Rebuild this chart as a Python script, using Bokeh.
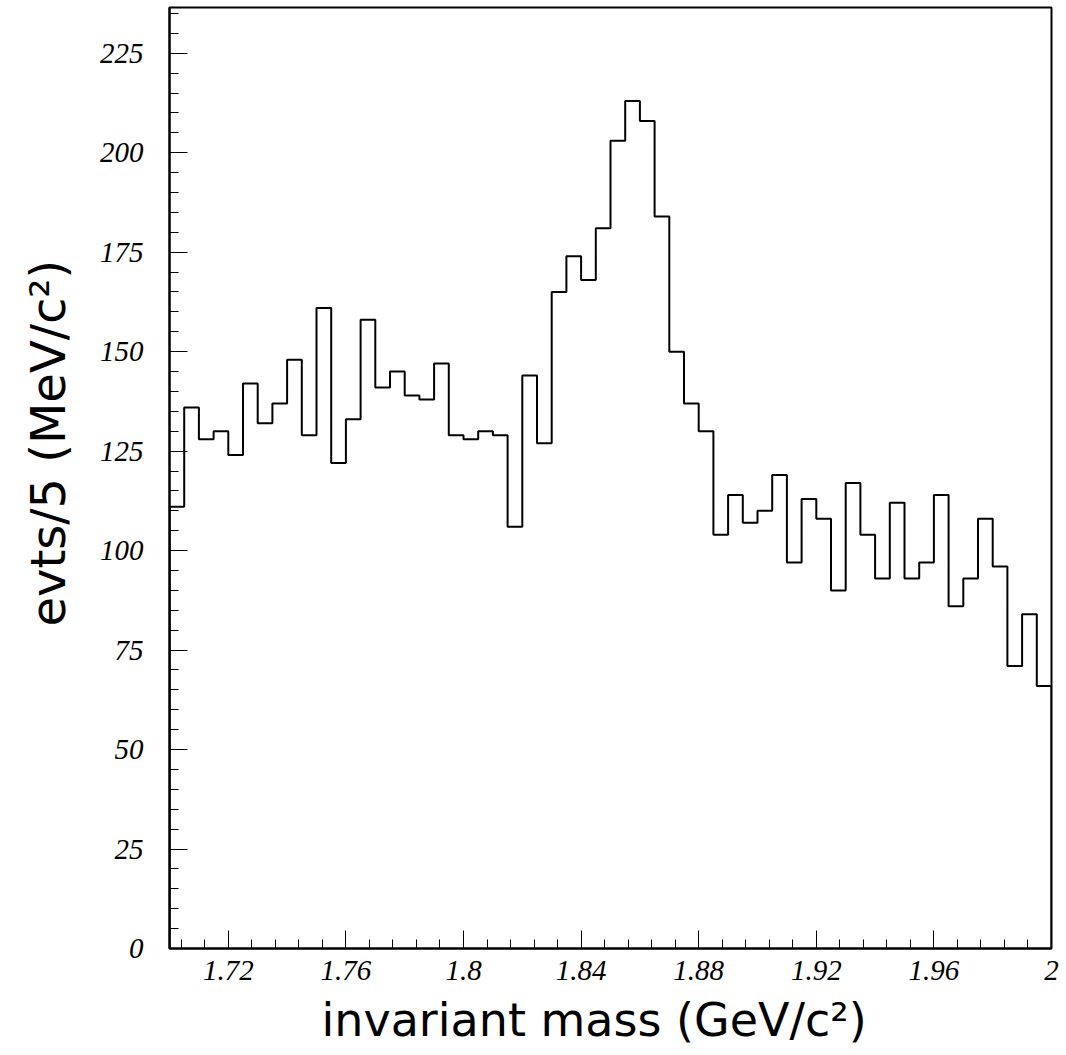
import math
from bokeh.plotting import figure
from bokeh.models import FixedTicker, Range1d, Title
from bokeh.embed import file_html
from bokeh.resources import INLINE

# ---- data -------------------------------------------------------------
x_start = 1.70
bin_width = 0.005
counts = [111, 136, 128, 130, 124, 142, 132, 137, 148, 129,
          161, 122, 133, 158, 141, 145, 139, 138, 147, 129,
          128, 130, 129, 106, 144, 127, 165, 174, 168, 181,
          203, 213, 208, 184, 150, 137, 130, 104, 114, 107,
          110, 119, 97, 113, 108, 90, 117, 104, 93, 112,
          93, 97, 114, 86, 93, 108, 96, 71, 84, 66]

x_major = [1.72, 1.76, 1.80, 1.84, 1.88, 1.92, 1.96, 2.00]
x_major_labels = ["1.72", "1.76", "1.8", "1.84", "1.88", "1.92", "1.96", "2"]
x_minor_step = 0.008
y_major = [0, 25, 50, 75, 100, 125, 150, 175, 200, 225]
y_minor_step = 5

x_title = "invariant mass (GeV/c²)"
y_title = "evts/5 (MeV/c²)"

# ---- derived -----------------------------------------------------------
edges = [round(x_start + i * bin_width, 6) for i in range(len(counts) + 1)]
step_y = counts + [counts[-1]]
x_minor = [round(1.704 + i * x_minor_step, 6) for i in range(38)]
y_minor = list(range(0, 240, y_minor_step))

p = figure(output_backend="svg", toolbar_location=None,
           frame_width=882, frame_height=941,
           min_border_left=169, min_border_right=10,
           min_border_top=7, min_border_bottom=100,
           x_range=Range1d(1.70, 2.00), y_range=Range1d(0, 236.5))
p.background_fill_color = "white"
p.border_fill_color = "white"
p.grid.visible = False
p.outline_line_color = "black"
p.outline_line_width = 2
p.outline_line_alpha = 1.0

# histogram outline
p.step(x=edges, y=step_y, mode="after", line_color="black", line_width=2)
p.segment(x0=[edges[0], edges[-1]], y0=[0, 0],
          x1=[edges[0], edges[-1]], y1=[counts[0], counts[-1]],
          line_color="black", line_width=2)

for ax in (p.xaxis[0], p.yaxis[0]):
    ax.axis_line_color = "black"
    ax.axis_line_width = 2
    ax.major_tick_in = 18
    ax.major_tick_out = 0
    ax.minor_tick_in = 9
    ax.minor_tick_out = 0
    ax.major_tick_line_color = "black"
    ax.minor_tick_line_color = "black"
    ax.major_tick_line_width = 1
    ax.minor_tick_line_width = 1
    ax.major_label_text_font = "Liberation Serif"
    ax.major_label_text_font_style = "italic"
    ax.major_label_text_font_size = "29px"
    ax.major_label_text_color = "black"

p.xaxis.ticker = FixedTicker(ticks=x_major, minor_ticks=x_minor)
p.xaxis.major_label_overrides = {t: l for t, l in zip(x_major, x_major_labels)}
p.xaxis.major_label_standoff = 12
p.yaxis.ticker = FixedTicker(ticks=y_major, minor_ticks=y_minor)
p.yaxis.major_label_standoff = 26

# axis titles
xt = Title(text=x_title, align="left", offset=152, standoff=17,
           text_font="DejaVu Sans", text_font_size="46px",
           text_font_style="normal", text_color="black")
yt = Title(text=y_title, align="left", offset=322, standoff=37,
           vertical_align="top",
           text_font="DejaVu Sans", text_font_size="48px",
           text_font_style="normal", text_color="black")
p.add_layout(xt, "below")
p.add_layout(yt, "left")

open("out.html", "w").write(file_html(p, INLINE))
